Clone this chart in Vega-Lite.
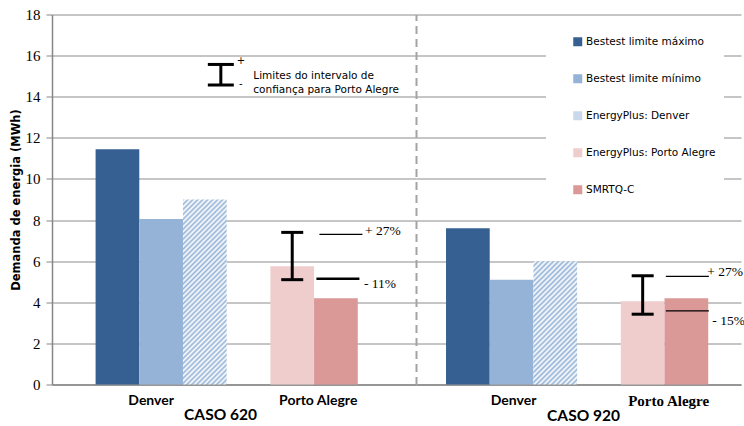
{
  "$schema": "https://vega.github.io/schema/vega-lite/v6.json",
  "background": "white",
  "padding": {"left": 10, "top": 7.5, "right": 0, "bottom": 0},
  "spacing": 0,
  "bounds": "flush",
  "config": {
    "view": {"stroke": null},
    "legend": {
      "title": null,
      "orient": "none",
      "legendX": 494,
      "legendY": 14,
      "fillColor": "white",
      "padding": 8,
      "symbolType": "square",
      "symbolSize": 81,
      "symbolOffset": 18.5,
      "symbolStrokeWidth": 0,
      "labelFont": "DejaVu Sans",
      "labelFontSize": 10.5,
      "labelColor": "#000000",
      "labelOffset": 3,
      "rowPadding": 26,
      "labelLimit": 0
    }
  },
  "datasets": {
    "barras": [
      {"caso": "CASO 620", "serie": "Bestest limite máximo", "valor": 11.45},
      {"caso": "CASO 620", "serie": "Bestest limite mínimo", "valor": 8.05},
      {"caso": "CASO 620", "serie": "EnergyPlus: Denver", "valor": 9.0},
      {"caso": "CASO 620", "serie": "EnergyPlus: Porto Alegre", "valor": 5.75},
      {"caso": "CASO 620", "serie": "SMRTQ-C", "valor": 4.2},
      {"caso": "CASO 920", "serie": "Bestest limite máximo", "valor": 7.6},
      {"caso": "CASO 920", "serie": "Bestest limite mínimo", "valor": 5.1},
      {"caso": "CASO 920", "serie": "EnergyPlus: Denver", "valor": 6.0},
      {"caso": "CASO 920", "serie": "EnergyPlus: Porto Alegre", "valor": 4.05},
      {"caso": "CASO 920", "serie": "SMRTQ-C", "valor": 4.2}
    ],
    "intervalo": [
      {"caso": "CASO 620", "inferior": 5.1, "superior": 7.4},
      {"caso": "CASO 920", "inferior": 3.42, "superior": 5.29}
    ],
    "limites": [
      {"caso": "CASO 620", "limite": "superior", "valor": 7.3, "rotulo": "+ 27%"},
      {"caso": "CASO 620", "limite": "inferior", "valor": 5.15, "rotulo": "- 11%"},
      {"caso": "CASO 920", "limite": "superior", "valor": 5.26, "rotulo": "+ 27%"},
      {"caso": "CASO 920", "limite": "inferior", "valor": 3.58, "rotulo": "- 15%"}
    ]
  },
  "hconcat": [
    {
      "width": 364,
      "height": 370,
      "layer": [
        {
          "data": {"name": "barras"},
          "transform": [{"filter": "datum.caso == 'CASO 620'"}],
          "mark": {"type": "bar"},
          "encoding": {
            "x": {
              "field": "serie", "type": "nominal",
              "scale": {
                "domain": ["Bestest limite máximo", "Bestest limite mínimo", "EnergyPlus: Denver", " ", "EnergyPlus: Porto Alegre", "SMRTQ-C", "  "],
                "paddingInner": 0, "paddingOuter": 0.665, "align": 0.75
              },
              "axis": {
                "title": "CASO 620",
                "titleFont": "Lato", "titleFontSize": 15.5, "titleFontWeight": "bold", "titleColor": "#000000",
                "titlePadding": 0, "titleX": 168,
                "labelExpr": "datum.value == 'Bestest limite mínimo' ? 'Denver' : (datum.value == 'EnergyPlus: Porto Alegre' ? 'Porto Alegre' : '')",
                "labelOffset": {"condition": {"test": "datum.value == 'EnergyPlus: Porto Alegre'", "value": 26}, "value": -10},
                "labelFont": "Lato", "labelFontSize": 14, "labelFontWeight": "bold", "labelColor": "#000000",
                "labelAngle": 0, "labelPadding": 9, "labelOverlap": false, "labelLimit": 0,
                "ticks": false, "domainColor": "#868686", "domainWidth": 1.5, "grid": false
              }
            },
            "y": {
              "field": "valor", "type": "quantitative", "title": "Demanda de energia (MWh)",
              "scale": {"domain": [0, 18], "nice": false},
              "axis": {
                "values": [0, 2, 4, 6, 8, 10, 12, 14, 16, 18],
                "labelFont": "Liberation Serif", "labelFontSize": 15, "labelColor": "#000000", "labelPadding": 6,
                "tickSize": 6, "tickColor": "#868686", "domainColor": "#868686", "domainWidth": 1.5,
                "grid": true, "gridColor": "#8c8c8c", "gridWidth": 1,
                "titleFont": "DejaVu Sans", "titleFontSize": 11.5, "titleFontWeight": "bold", "titleColor": "#000000", "titlePadding": 4
              }
            },
            "color": {
              "condition": {
                "test": "datum.serie == 'EnergyPlus: Denver'",
                "value": {
                  "gradient": "linear", "x1": 0, "y1": 0, "x2": 0.2761, "y2": 1.1707,
                  "stops": [
                    {"offset": 0, "color": "#95b3d7"}, {"offset": 0.0109, "color": "#ffffff"}, {"offset": 0.0217, "color": "#95b3d7"}, {"offset": 0.0326, "color": "#ffffff"},
                    {"offset": 0.0435, "color": "#95b3d7"}, {"offset": 0.0543, "color": "#ffffff"}, {"offset": 0.0652, "color": "#95b3d7"}, {"offset": 0.0761, "color": "#ffffff"},
                    {"offset": 0.087, "color": "#95b3d7"}, {"offset": 0.0978, "color": "#ffffff"}, {"offset": 0.1087, "color": "#95b3d7"}, {"offset": 0.1196, "color": "#ffffff"},
                    {"offset": 0.1304, "color": "#95b3d7"}, {"offset": 0.1413, "color": "#ffffff"}, {"offset": 0.1522, "color": "#95b3d7"}, {"offset": 0.163, "color": "#ffffff"},
                    {"offset": 0.1739, "color": "#95b3d7"}, {"offset": 0.1848, "color": "#ffffff"}, {"offset": 0.1957, "color": "#95b3d7"}, {"offset": 0.2065, "color": "#ffffff"},
                    {"offset": 0.2174, "color": "#95b3d7"}, {"offset": 0.2283, "color": "#ffffff"}, {"offset": 0.2391, "color": "#95b3d7"}, {"offset": 0.25, "color": "#ffffff"},
                    {"offset": 0.2609, "color": "#95b3d7"}, {"offset": 0.2717, "color": "#ffffff"}, {"offset": 0.2826, "color": "#95b3d7"}, {"offset": 0.2935, "color": "#ffffff"},
                    {"offset": 0.3043, "color": "#95b3d7"}, {"offset": 0.3152, "color": "#ffffff"}, {"offset": 0.3261, "color": "#95b3d7"}, {"offset": 0.337, "color": "#ffffff"},
                    {"offset": 0.3478, "color": "#95b3d7"}, {"offset": 0.3587, "color": "#ffffff"}, {"offset": 0.3696, "color": "#95b3d7"}, {"offset": 0.3804, "color": "#ffffff"},
                    {"offset": 0.3913, "color": "#95b3d7"}, {"offset": 0.4022, "color": "#ffffff"}, {"offset": 0.413, "color": "#95b3d7"}, {"offset": 0.4239, "color": "#ffffff"},
                    {"offset": 0.4348, "color": "#95b3d7"}, {"offset": 0.4457, "color": "#ffffff"}, {"offset": 0.4565, "color": "#95b3d7"}, {"offset": 0.4674, "color": "#ffffff"},
                    {"offset": 0.4783, "color": "#95b3d7"}, {"offset": 0.4891, "color": "#ffffff"}, {"offset": 0.5, "color": "#95b3d7"}, {"offset": 0.5109, "color": "#ffffff"},
                    {"offset": 0.5217, "color": "#95b3d7"}, {"offset": 0.5326, "color": "#ffffff"}, {"offset": 0.5435, "color": "#95b3d7"}, {"offset": 0.5543, "color": "#ffffff"},
                    {"offset": 0.5652, "color": "#95b3d7"}, {"offset": 0.5761, "color": "#ffffff"}, {"offset": 0.587, "color": "#95b3d7"}, {"offset": 0.5978, "color": "#ffffff"},
                    {"offset": 0.6087, "color": "#95b3d7"}, {"offset": 0.6196, "color": "#ffffff"}, {"offset": 0.6304, "color": "#95b3d7"}, {"offset": 0.6413, "color": "#ffffff"},
                    {"offset": 0.6522, "color": "#95b3d7"}, {"offset": 0.663, "color": "#ffffff"}, {"offset": 0.6739, "color": "#95b3d7"}, {"offset": 0.6848, "color": "#ffffff"},
                    {"offset": 0.6957, "color": "#95b3d7"}, {"offset": 0.7065, "color": "#ffffff"}, {"offset": 0.7174, "color": "#95b3d7"}, {"offset": 0.7283, "color": "#ffffff"},
                    {"offset": 0.7391, "color": "#95b3d7"}, {"offset": 0.75, "color": "#ffffff"}, {"offset": 0.7609, "color": "#95b3d7"}, {"offset": 0.7717, "color": "#ffffff"},
                    {"offset": 0.7826, "color": "#95b3d7"}, {"offset": 0.7935, "color": "#ffffff"}, {"offset": 0.8043, "color": "#95b3d7"}, {"offset": 0.8152, "color": "#ffffff"},
                    {"offset": 0.8261, "color": "#95b3d7"}, {"offset": 0.837, "color": "#ffffff"}, {"offset": 0.8478, "color": "#95b3d7"}, {"offset": 0.8587, "color": "#ffffff"},
                    {"offset": 0.8696, "color": "#95b3d7"}, {"offset": 0.8804, "color": "#ffffff"}, {"offset": 0.8913, "color": "#95b3d7"}, {"offset": 0.9022, "color": "#ffffff"},
                    {"offset": 0.913, "color": "#95b3d7"}, {"offset": 0.9239, "color": "#ffffff"}, {"offset": 0.9348, "color": "#95b3d7"}, {"offset": 0.9457, "color": "#ffffff"},
                    {"offset": 0.9565, "color": "#95b3d7"}, {"offset": 0.9674, "color": "#ffffff"}, {"offset": 0.9783, "color": "#95b3d7"}, {"offset": 0.9891, "color": "#ffffff"},
                    {"offset": 1, "color": "#95b3d7"}
                  ]
                }
              },
              "field": "serie", "type": "nominal",
              "scale": {
                "domain": ["Bestest limite máximo", "Bestest limite mínimo", "EnergyPlus: Denver", "EnergyPlus: Porto Alegre", "SMRTQ-C"],
                "range": ["#376092", "#95b3d7", "#c9d9eb", "#efcdcd", "#da9896"]
              }
            }
          }
        },
        {
          "data": {"name": "intervalo"},
          "transform": [{"filter": "datum.caso == 'CASO 620'"}],
          "mark": {"type": "rule", "color": "#000000", "strokeWidth": 3},
          "encoding": {
            "x": {"datum": "EnergyPlus: Porto Alegre", "type": "nominal"},
            "y": {"field": "inferior", "type": "quantitative", "title": "Demanda de energia (MWh)"},
            "y2": {"field": "superior"}
          }
        },
        {
          "data": {"name": "intervalo"},
          "transform": [{"filter": "datum.caso == 'CASO 620'"}],
          "mark": {"type": "tick", "color": "#000000", "opacity": 1, "size": 22, "thickness": 3},
          "encoding": {
            "x": {"datum": "EnergyPlus: Porto Alegre", "type": "nominal"},
            "y": {"field": "superior", "type": "quantitative", "title": "Demanda de energia (MWh)"}
          }
        },
        {
          "data": {"name": "intervalo"},
          "transform": [{"filter": "datum.caso == 'CASO 620'"}],
          "mark": {"type": "tick", "color": "#000000", "opacity": 1, "size": 22, "thickness": 3},
          "encoding": {
            "x": {"datum": "EnergyPlus: Porto Alegre", "type": "nominal"},
            "y": {"field": "inferior", "type": "quantitative", "title": "Demanda de energia (MWh)"}
          }
        },
        {
          "data": {"name": "limites"},
          "transform": [{"filter": "datum.caso == 'CASO 620' && datum.limite == 'superior'"}],
          "mark": {"type": "tick", "color": "#000000", "opacity": 1, "size": 43, "thickness": 1.2, "xOffset": 5},
          "encoding": {
            "x": {"datum": "SMRTQ-C", "type": "nominal"},
            "y": {"field": "valor", "type": "quantitative", "title": "Demanda de energia (MWh)"}
          }
        },
        {
          "data": {"name": "limites"},
          "transform": [{"filter": "datum.caso == 'CASO 620' && datum.limite == 'inferior'"}],
          "mark": {"type": "tick", "color": "#000000", "opacity": 1, "size": 43, "thickness": 2.5, "xOffset": 2},
          "encoding": {
            "x": {"datum": "SMRTQ-C", "type": "nominal"},
            "y": {"field": "valor", "type": "quantitative", "title": "Demanda de energia (MWh)"}
          }
        },
        {
          "data": {"name": "limites"},
          "transform": [{"filter": "datum.caso == 'CASO 620' && datum.limite == 'superior'"}],
          "mark": {"type": "text", "align": "left", "baseline": "middle", "dx": 29, "dy": -3, "font": "Liberation Serif", "fontSize": 13.5, "color": "#000000"},
          "encoding": {
            "x": {"datum": "SMRTQ-C", "type": "nominal"},
            "y": {"field": "valor", "type": "quantitative", "title": "Demanda de energia (MWh)"},
            "text": {"field": "rotulo"}
          }
        },
        {
          "data": {"name": "limites"},
          "transform": [{"filter": "datum.caso == 'CASO 620' && datum.limite == 'inferior'"}],
          "mark": {"type": "text", "align": "left", "baseline": "middle", "dx": 28, "dy": 5, "font": "Liberation Serif", "fontSize": 13.5, "color": "#000000"},
          "encoding": {
            "x": {"datum": "SMRTQ-C", "type": "nominal"},
            "y": {"field": "valor", "type": "quantitative", "title": "Demanda de energia (MWh)"},
            "text": {"field": "rotulo"}
          }
        },
        {
          "data": {"values": [{}]},
          "mark": {"type": "rule", "color": "#000000", "strokeWidth": 3, "xOffset": 16},
          "encoding": {
            "x": {"datum": "EnergyPlus: Denver", "type": "nominal"},
            "y": {"datum": 14.57, "type": "quantitative", "title": "Demanda de energia (MWh)"},
            "y2": {"datum": 15.57}
          }
        },
        {
          "data": {"values": [{}]},
          "mark": {"type": "tick", "color": "#000000", "opacity": 1, "size": 26, "thickness": 3, "xOffset": 16},
          "encoding": {
            "x": {"datum": "EnergyPlus: Denver", "type": "nominal"},
            "y": {"datum": 15.57, "type": "quantitative", "title": "Demanda de energia (MWh)"}
          }
        },
        {
          "data": {"values": [{}]},
          "mark": {"type": "tick", "color": "#000000", "opacity": 1, "size": 26, "thickness": 3, "xOffset": 16},
          "encoding": {
            "x": {"datum": "EnergyPlus: Denver", "type": "nominal"},
            "y": {"datum": 14.57, "type": "quantitative", "title": "Demanda de energia (MWh)"}
          }
        },
        {
          "data": {"values": [{}]},
          "mark": {"type": "text", "align": "center", "baseline": "middle", "dx": 36, "font": "DejaVu Sans", "fontSize": 10, "color": "#000000", "text": "+"},
          "encoding": {
            "x": {"datum": "EnergyPlus: Denver", "type": "nominal"},
            "y": {"datum": 15.73, "type": "quantitative", "title": "Demanda de energia (MWh)"}
          }
        },
        {
          "data": {"values": [{}]},
          "mark": {"type": "text", "align": "center", "baseline": "middle", "dx": 36, "font": "DejaVu Sans", "fontSize": 10, "color": "#000000", "text": "-"},
          "encoding": {
            "x": {"datum": "EnergyPlus: Denver", "type": "nominal"},
            "y": {"datum": 14.6, "type": "quantitative", "title": "Demanda de energia (MWh)"}
          }
        },
        {
          "data": {"values": [{}]},
          "mark": {"type": "text", "align": "left", "baseline": "middle", "dx": 48.5, "font": "DejaVu Sans", "fontSize": 10.5, "lineHeight": 13.5, "color": "#000000", "text": ["Limites do intervalo de", "confiança para Porto Alegre"]},
          "encoding": {
            "x": {"datum": "EnergyPlus: Denver", "type": "nominal"},
            "y": {"datum": 15.0, "type": "quantitative", "title": "Demanda de energia (MWh)"}
          }
        }
      ]
    },
    {
      "width": 325,
      "height": 370,
      "layer": [
        {
          "data": {"name": "barras"},
          "transform": [{"filter": "datum.caso == 'CASO 920'"}],
          "mark": {"type": "bar"},
          "encoding": {
            "x": {
              "field": "serie", "type": "nominal",
              "scale": {
                "domain": ["Bestest limite máximo", "Bestest limite mínimo", "EnergyPlus: Denver", " ", "EnergyPlus: Porto Alegre", "SMRTQ-C"],
                "paddingInner": 0, "paddingOuter": 0.7185, "align": 0.478
              },
              "axis": {
                "title": "CASO 920",
                "titleFont": "Lato", "titleFontSize": 15.5, "titleFontWeight": "bold", "titleColor": "#000000",
                "titlePadding": 0, "titleX": 167,
                "labelExpr": "datum.value == 'Bestest limite mínimo' ? 'Denver' : (datum.value == 'EnergyPlus: Porto Alegre' ? 'Porto Alegre' : '')",
                "labelOffset": {"condition": {"test": "datum.value == 'EnergyPlus: Porto Alegre'", "value": 26}, "value": 2},
                "labelFont": {"condition": {"test": "datum.value == 'EnergyPlus: Porto Alegre'", "value": "Liberation Serif"}, "value": "Lato"},
                "labelFontSize": {"condition": {"test": "datum.value == 'EnergyPlus: Porto Alegre'", "value": 15}, "value": 14},
                "labelFontWeight": "bold", "labelColor": "#000000",
                "labelAngle": 0, "labelPadding": 9, "labelOverlap": false, "labelLimit": 0,
                "ticks": false, "domainColor": "#868686", "domainWidth": 1.5, "grid": false
              }
            },
            "y": {
              "field": "valor", "type": "quantitative", "title": null,
              "scale": {"domain": [0, 18], "nice": false},
              "axis": {
                "values": [0, 2, 4, 6, 8, 10, 12, 14, 16, 18],
                "labels": false, "ticks": false,
                "domainColor": "#a3a3a3", "domainWidth": 2, "domainDash": [8, 5],
                "grid": true, "gridColor": "#8c8c8c", "gridWidth": 1
              }
            },
            "color": {
              "condition": {
                "test": "datum.serie == 'EnergyPlus: Denver'",
                "value": {
                  "gradient": "linear", "x1": 0, "y1": 0, "x2": 0.4254, "y2": 1.2031,
                  "stops": [
                    {"offset": 0, "color": "#95b3d7"}, {"offset": 0.0152, "color": "#ffffff"}, {"offset": 0.0303, "color": "#95b3d7"}, {"offset": 0.0455, "color": "#ffffff"},
                    {"offset": 0.0606, "color": "#95b3d7"}, {"offset": 0.0758, "color": "#ffffff"}, {"offset": 0.0909, "color": "#95b3d7"}, {"offset": 0.1061, "color": "#ffffff"},
                    {"offset": 0.1212, "color": "#95b3d7"}, {"offset": 0.1364, "color": "#ffffff"}, {"offset": 0.1515, "color": "#95b3d7"}, {"offset": 0.1667, "color": "#ffffff"},
                    {"offset": 0.1818, "color": "#95b3d7"}, {"offset": 0.197, "color": "#ffffff"}, {"offset": 0.2121, "color": "#95b3d7"}, {"offset": 0.2273, "color": "#ffffff"},
                    {"offset": 0.2424, "color": "#95b3d7"}, {"offset": 0.2576, "color": "#ffffff"}, {"offset": 0.2727, "color": "#95b3d7"}, {"offset": 0.2879, "color": "#ffffff"},
                    {"offset": 0.303, "color": "#95b3d7"}, {"offset": 0.3182, "color": "#ffffff"}, {"offset": 0.3333, "color": "#95b3d7"}, {"offset": 0.3485, "color": "#ffffff"},
                    {"offset": 0.3636, "color": "#95b3d7"}, {"offset": 0.3788, "color": "#ffffff"}, {"offset": 0.3939, "color": "#95b3d7"}, {"offset": 0.4091, "color": "#ffffff"},
                    {"offset": 0.4242, "color": "#95b3d7"}, {"offset": 0.4394, "color": "#ffffff"}, {"offset": 0.4545, "color": "#95b3d7"}, {"offset": 0.4697, "color": "#ffffff"},
                    {"offset": 0.4848, "color": "#95b3d7"}, {"offset": 0.5, "color": "#ffffff"}, {"offset": 0.5152, "color": "#95b3d7"}, {"offset": 0.5303, "color": "#ffffff"},
                    {"offset": 0.5455, "color": "#95b3d7"}, {"offset": 0.5606, "color": "#ffffff"}, {"offset": 0.5758, "color": "#95b3d7"}, {"offset": 0.5909, "color": "#ffffff"},
                    {"offset": 0.6061, "color": "#95b3d7"}, {"offset": 0.6212, "color": "#ffffff"}, {"offset": 0.6364, "color": "#95b3d7"}, {"offset": 0.6515, "color": "#ffffff"},
                    {"offset": 0.6667, "color": "#95b3d7"}, {"offset": 0.6818, "color": "#ffffff"}, {"offset": 0.697, "color": "#95b3d7"}, {"offset": 0.7121, "color": "#ffffff"},
                    {"offset": 0.7273, "color": "#95b3d7"}, {"offset": 0.7424, "color": "#ffffff"}, {"offset": 0.7576, "color": "#95b3d7"}, {"offset": 0.7727, "color": "#ffffff"},
                    {"offset": 0.7879, "color": "#95b3d7"}, {"offset": 0.803, "color": "#ffffff"}, {"offset": 0.8182, "color": "#95b3d7"}, {"offset": 0.8333, "color": "#ffffff"},
                    {"offset": 0.8485, "color": "#95b3d7"}, {"offset": 0.8636, "color": "#ffffff"}, {"offset": 0.8788, "color": "#95b3d7"}, {"offset": 0.8939, "color": "#ffffff"},
                    {"offset": 0.9091, "color": "#95b3d7"}, {"offset": 0.9242, "color": "#ffffff"}, {"offset": 0.9394, "color": "#95b3d7"}, {"offset": 0.9545, "color": "#ffffff"},
                    {"offset": 0.9697, "color": "#95b3d7"}, {"offset": 0.9848, "color": "#ffffff"}, {"offset": 1, "color": "#95b3d7"}
                  ]
                }
              },
              "field": "serie", "type": "nominal",
              "scale": {
                "domain": ["Bestest limite máximo", "Bestest limite mínimo", "EnergyPlus: Denver", "EnergyPlus: Porto Alegre", "SMRTQ-C"],
                "range": ["#376092", "#95b3d7", "#c9d9eb", "#efcdcd", "#da9896"]
              }
            }
          }
        },
        {
          "data": {"name": "intervalo"},
          "transform": [{"filter": "datum.caso == 'CASO 920'"}],
          "mark": {"type": "rule", "color": "#000000", "strokeWidth": 3},
          "encoding": {
            "x": {"datum": "EnergyPlus: Porto Alegre", "type": "nominal"},
            "y": {"field": "inferior", "type": "quantitative", "title": null},
            "y2": {"field": "superior"}
          }
        },
        {
          "data": {"name": "intervalo"},
          "transform": [{"filter": "datum.caso == 'CASO 920'"}],
          "mark": {"type": "tick", "color": "#000000", "opacity": 1, "size": 22, "thickness": 3},
          "encoding": {
            "x": {"datum": "EnergyPlus: Porto Alegre", "type": "nominal"},
            "y": {"field": "superior", "type": "quantitative", "title": null}
          }
        },
        {
          "data": {"name": "intervalo"},
          "transform": [{"filter": "datum.caso == 'CASO 920'"}],
          "mark": {"type": "tick", "color": "#000000", "opacity": 1, "size": 22, "thickness": 3},
          "encoding": {
            "x": {"datum": "EnergyPlus: Porto Alegre", "type": "nominal"},
            "y": {"field": "inferior", "type": "quantitative", "title": null}
          }
        },
        {
          "data": {"name": "limites"},
          "transform": [{"filter": "datum.caso == 'CASO 920'"}],
          "mark": {"type": "tick", "color": "#000000", "opacity": 1, "size": 43, "thickness": 1.2, "xOffset": 1},
          "encoding": {
            "x": {"datum": "SMRTQ-C", "type": "nominal"},
            "y": {"field": "valor", "type": "quantitative", "title": null}
          }
        },
        {
          "data": {"name": "limites"},
          "transform": [{"filter": "datum.caso == 'CASO 920' && datum.limite == 'superior'"}],
          "mark": {"type": "text", "align": "left", "baseline": "middle", "dx": 21, "dy": -4, "font": "Liberation Serif", "fontSize": 13.5, "color": "#000000"},
          "encoding": {
            "x": {"datum": "SMRTQ-C", "type": "nominal"},
            "y": {"field": "valor", "type": "quantitative", "title": null},
            "text": {"field": "rotulo"}
          }
        },
        {
          "data": {"name": "limites"},
          "transform": [{"filter": "datum.caso == 'CASO 920' && datum.limite == 'inferior'"}],
          "mark": {"type": "text", "align": "left", "baseline": "middle", "dx": 26, "dy": 10, "font": "Liberation Serif", "fontSize": 13.5, "color": "#000000"},
          "encoding": {
            "x": {"datum": "SMRTQ-C", "type": "nominal"},
            "y": {"field": "valor", "type": "quantitative", "title": null},
            "text": {"field": "rotulo"}
          }
        }
      ]
    }
  ]
}
